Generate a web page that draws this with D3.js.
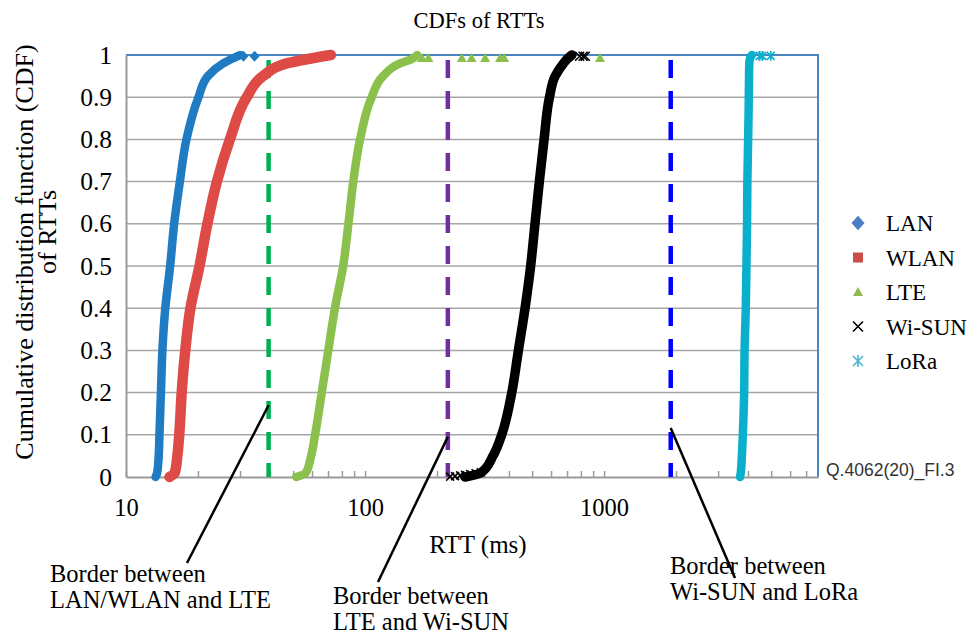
<!DOCTYPE html>
<html>
<head>
<meta charset="utf-8">
<script src="https://cdn.jsdelivr.net/npm/d3@7"></script>
<style>
  body { margin: 0; background: #fff; }
  text { font-family: "Liberation Serif", "Times New Roman", serif; fill: #000; }
</style>
</head>
<body>
<div id="chart"></div>
<script>
// CDF levels shared by all curves
const cdfLevels = [0, 0.01, 0.05, 0.1, 0.2, 0.3, 0.4, 0.5, 0.6, 0.7, 0.8, 0.9, 0.95, 0.98, 0.99, 1];

// RTT (ms) read at each CDF level
const lanRtt = [13.3, 13.5, 13.7, 13.8, 14.0, 14.2, 14.6, 15.3, 15.9, 16.8, 17.9, 20.1, 22.0, 25.5, 27.5, 30];
const wlanRtt = [15.2, 16.0, 16.4, 16.7, 17.1, 17.7, 18.6, 20.3, 21.9, 24.0, 27.2, 32.0, 37.4, 47, 57, 72];
const lteRtt = [51.5, 56.5, 59.5, 61.8, 65.9, 70.2, 74.8, 81, 85.2, 89.3, 95.3, 106.6, 118.9, 140, 156.6, 165];
const wisunRtt = [262, 305, 343, 373, 411, 438, 467, 493, 514, 536, 561, 591, 624, 676, 700, 733];
const loraRtt = [3707, 3730, 3770, 3805, 3854, 3870, 3915, 3940, 3963, 3975, 4006, 4030, 4040, 4050, 4070, 4150];

// isolated samples at the top (CDF = 1)
const lanTail = [31, 34.5];
const lteTail = [173, 184, 254, 279, 318, 367, 382, 962];
const wisunTail = [790, 817, 834];
const loraTail = [4480, 4590, 4980];

// isolated Wi-SUN samples at the bottom
const wisunLowRtt = [227, 238, 250, 262, 275, 290, 305];
const wisunLowCdf = [0.001, 0.002, 0.004, 0.005, 0.007, 0.009, 0.011];

const seriesNames = ["LAN", "WLAN", "LTE", "Wi-SUN", "LoRa"];
const seriesColors = ["#1f7bc2", "#de4a46", "#8cc04c", "#000000", "#0aafcb"];
const legendColors = ["#4a7ec6", "#c84d4b", "#8fbb50", "#000000", "#4bb6d4"];
const seriesWidths = [8.5, 10.5, 8.5, 9.5, 8.5];

// borders between technologies (ms)
const borderRtt = [39.5, 222, 1900];
const borderColors = ["#00b050", "#7030a0", "#0000ff"];

const xTicks = [10, 20, 30, 40, 50, 60, 70, 80, 90, 100, 200, 300, 400, 500, 600, 700, 800, 900,
  1000, 2000, 3000, 4000, 5000, 6000, 7000];
const yTicks = [0, 0.1, 0.2, 0.3, 0.4, 0.5, 0.6, 0.7, 0.8, 0.9, 1];

const W = 973, H = 634;
const plot = { left: 126, right: 818, top: 55, bottom: 477 };

const x = d3.scaleLog().domain([10, 7850]).range([plot.left, plot.right]);
const y = d3.scaleLinear().domain([0, 1]).range([plot.bottom, plot.top]);

const svg = d3.select("#chart").append("svg")
  .attr("width", W).attr("height", H);

svg.append("rect").attr("width", W).attr("height", H).attr("fill", "#fff");

// gridlines
svg.append("g")
  .selectAll("line")
  .data(yTicks.filter(d => d > 0 && d < 1))
  .enter().append("line")
  .attr("x1", plot.left).attr("x2", plot.right)
  .attr("y1", d => y(d)).attr("y2", d => y(d))
  .attr("stroke", "#a6a6a6").attr("stroke-width", 1.5);

// plot border top + right (blue)
svg.append("path")
  .attr("d", `M${plot.left},${y(1)}H${plot.right}V${plot.bottom}`)
  .attr("fill", "none").attr("stroke", "#4a86c0").attr("stroke-width", 2);

// y axis
const yAxis = d3.axisLeft(y).tickValues(yTicks).tickSize(0).tickPadding(14)
  .tickFormat(d => (d === 0 || d === 1) ? d3.format("d")(d) : d3.format(".1f")(d));
svg.append("g")
  .attr("transform", `translate(${plot.left},0)`)
  .call(yAxis)
  .call(g => g.select(".domain").attr("stroke", "#9a9a9a").attr("stroke-width", 2))
  .call(g => g.selectAll("text").style("font-size", "25.5px"));

// x axis, minor ticks pointing up
const xAxis = d3.axisBottom(x).tickValues(xTicks).tickSizeInner(-6).tickSizeOuter(0).tickPadding(22)
  .tickFormat(d => [10, 100, 1000].includes(d) ? String(d) : "");
svg.append("g")
  .attr("transform", `translate(0,${plot.bottom})`)
  .call(xAxis)
  .call(g => g.select(".domain").attr("stroke", "#9a9a9a").attr("stroke-width", 2))
  .call(g => g.selectAll(".tick line").attr("stroke", "#9a9a9a").attr("stroke-width", 1.5))
  .call(g => g.selectAll("text").style("font-size", "24.5px"));

// dashed border lines
svg.append("g")
  .selectAll("line")
  .data(borderRtt)
  .enter().append("line")
  .attr("x1", d => x(d)).attr("x2", d => x(d))
  .attr("y1", y(0)).attr("y2", y(1))
  .attr("stroke", (d, i) => borderColors[i])
  .attr("stroke-width", 4.5)
  .attr("stroke-dasharray", "18 13")
  .attr("stroke-dashoffset", 4);

// curves
const allRtt = [lanRtt, wlanRtt, lteRtt, wisunRtt, loraRtt];
const line = d3.line()
  .x(d => x(d.rtt))
  .y(d => y(d.cdf))
  .curve(d3.curveMonotoneY);

svg.append("g")
  .selectAll("path")
  .data(allRtt)
  .enter().append("path")
  .attr("d", rtts => line(rtts.map((r, i) => ({ rtt: r, cdf: cdfLevels[i] }))))
  .attr("fill", "none")
  .attr("stroke", (d, i) => seriesColors[i])
  .attr("stroke-width", (d, i) => seriesWidths[i])
  .attr("stroke-linecap", "round")
  .attr("stroke-linejoin", "round");

// marker shapes
function markerPath(i, s) {
  const h = s / 2;
  if (i === 0) return `M0,${-h * 1.1}L${h},0L0,${h * 1.1}L${-h},0Z`;
  if (i === 1) return `M${-h},${-h}H${h}V${h}H${-h}Z`;
  if (i === 2) return `M0,${-h}L${h},${h * 0.8}L${-h},${h * 0.8}Z`;
  if (i === 3) return `M${-h},${-h}L${h},${h}M${-h},${h}L${h},${-h}`;
  return `M${-h},${-h}L${h},${h}M${-h},${h}L${h},${-h}M0,${-h * 1.2}V${h * 1.2}`;
}
function drawMarkers(values, cdfs, i, size) {
  svg.append("g")
    .selectAll("path")
    .data(values)
    .enter().append("path")
    .attr("transform", (d, k) => `translate(${x(d)},${y(cdfs[k])})`)
    .attr("d", markerPath(i, size))
    .attr("fill", i >= 3 ? "none" : seriesColors[i])
    .attr("stroke", seriesColors[i])
    .attr("stroke-width", i >= 3 ? 1.6 : 0);
}

drawMarkers(lanTail, lanTail.map(() => 0.997), 0, 10);
drawMarkers(lteTail, lteTail.map(() => 0.993), 2, 10);
drawMarkers(wisunTail, wisunTail.map(() => 0.997), 3, 9);
drawMarkers(loraTail, loraTail.map(() => 0.998), 4, 8);
drawMarkers(wisunLowRtt, wisunLowCdf, 3, 8);

// legend
const legend = svg.append("g").attr("transform", "translate(858,223)");
const rows = legend.selectAll("g")
  .data(seriesNames)
  .enter().append("g")
  .attr("transform", (d, i) => `translate(0,${i * 34.5})`);
rows.append("path")
  .attr("d", (d, i) => markerPath(i, i === 0 ? 13 : 10))
  .attr("fill", (d, i) => i >= 3 ? "none" : legendColors[i])
  .attr("stroke", (d, i) => legendColors[i])
  .attr("stroke-width", (d, i) => i >= 3 ? 1.6 : 0);
rows.append("text")
  .attr("x", 28).attr("dy", "0.35em")
  .style("font-size", "23px")
  .text(d => d);

// titles
svg.append("text")
  .attr("x", 479).attr("y", 28)
  .attr("text-anchor", "middle").style("font-size", "22.5px")
  .text("CDFs of RTTs");

svg.append("text")
  .attr("x", 478).attr("y", 553)
  .attr("text-anchor", "middle").style("font-size", "25px")
  .text("RTT (ms)");

svg.append("text")
  .attr("transform", "translate(33,252) rotate(-90)")
  .attr("text-anchor", "middle").style("font-size", "26px")
  .text("Cumulative distribution function (CDF)");
svg.append("text")
  .attr("transform", "translate(56,232) rotate(-90)")
  .attr("text-anchor", "middle").style("font-size", "26px")
  .text("of RTTs");

svg.append("text")
  .attr("x", 826).attr("y", 476)
  .style("font-family", "'Liberation Sans', Arial, sans-serif")
  .style("font-size", "17.5px").style("fill", "#333")
  .text("Q.4062(20)_FI.3");

// annotations for the borders
const notes = [
  { cdf: 0.17, lx: 187, ly: 563, tx: 50, ty: 582, lines: ["Border between", "LAN/WLAN and LTE"] },
  { cdf: 0.095, lx: 378, ly: 582, tx: 333, ty: 604, lines: ["Border between", "LTE and Wi-SUN"] },
  { cdf: 0.116, lx: 735, ly: 578, tx: 670, ty: 574, lines: ["Border between", "Wi-SUN and LoRa"] }
];
notes.forEach((n, i) => {
  svg.append("line")
    .attr("x1", x(borderRtt[i])).attr("y1", y(n.cdf))
    .attr("x2", n.lx).attr("y2", n.ly)
    .attr("stroke", "#000").attr("stroke-width", 2.5);
  svg.append("text")
    .attr("x", n.tx).attr("y", n.ty)
    .style("font-size", "24.5px")
    .selectAll("tspan")
    .data(n.lines)
    .enter().append("tspan")
    .attr("x", n.tx)
    .attr("dy", (d, k) => k === 0 ? 0 : 26)
    .text(d => d);
});
</script>
</body>
</html>
